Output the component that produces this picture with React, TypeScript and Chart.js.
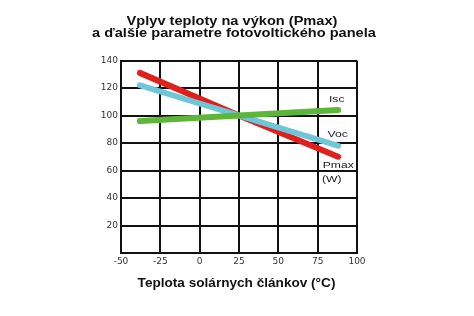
import React, { useEffect, useRef } from "react";
import { Chart, registerables } from "chart.js";

Chart.register(...registerables);

const titleLines = ["Vplyv teploty na výkon (Pmax)", "a ďalšie parametre fotovoltického panela"];
const xAxisTitle = "Teplota solárnych článkov (°C)";
const temperatures = [-38, 25, 88];
const pmaxValues = [131, 100, 70];
const vocValues = [122, 100, 78];
const iscValues = [96, 100, 104];
const seriesLabels = ["Isc", "Voc", "Pmax", "(W)"];
const xTicks = [-50, -25, 0, 25, 50, 75, 100];
const yTicks = [0, 20, 40, 60, 80, 100, 120, 140];

const toPoints = (vals: number[]) => temperatures.map((t, i) => ({ x: t, y: vals[i] }));

function stretchedText(ctx: any, text: string, x: number, y: number, sx: number, sy: number) {
  ctx.save();
  ctx.translate(x, y);
  ctx.scale(sx, sy);
  ctx.fillText(text, 0, 0);
  ctx.restore();
}

const textPlugin = {
  id: "texts",
  afterDraw(chart: any) {
    const ctx = chart.ctx;
    const xs = chart.scales.x;
    const ys = chart.scales.y;
    ctx.save();
    ctx.fillStyle = "#111";
    ctx.textAlign = "center";
    ctx.textBaseline = "alphabetic";
    ctx.font = "bold 14.6px 'Liberation Sans', Arial, sans-serif";
    stretchedText(ctx, titleLines[0], 232, 25, 1, 0.88);
    stretchedText(ctx, titleLines[1], 234, 37, 1, 0.88);
    ctx.font = "bold 13.6px 'Liberation Sans', Arial, sans-serif";
    stretchedText(ctx, xAxisTitle, 236.5, 286.7, 1, 0.95);
    ctx.textAlign = "left";
    ctx.font = "9px 'Liberation Sans', Arial, sans-serif";
    ctx.fillStyle = "#1a1a1a";
    stretchedText(ctx, seriesLabels[0], xs.getPixelForValue(82.2), ys.getPixelForValue(109.6), 1.35, 1);
    stretchedText(ctx, seriesLabels[1], xs.getPixelForValue(81.3), ys.getPixelForValue(84.4), 1.35, 1);
    stretchedText(ctx, seriesLabels[2], xs.getPixelForValue(78.2), ys.getPixelForValue(61.8), 1.35, 1);
    stretchedText(ctx, seriesLabels[3], xs.getPixelForValue(77.8), ys.getPixelForValue(51.6), 1.35, 1);
    ctx.restore();
  },
};

export default function App() {
  const ref = useRef<HTMLCanvasElement>(null);
  useEffect(() => {
    if (!ref.current) return;
    const chart = new Chart(ref.current, {
      type: "line",
      data: {
        datasets: [
          { label: "Isc", data: toPoints(iscValues), borderColor: "#5db53a", borderWidth: 6, pointRadius: 0, borderCapStyle: "round", order: 0 },
          { label: "Voc", data: toPoints(vocValues), borderColor: "#6ec6d6", borderWidth: 6, pointRadius: 0, borderCapStyle: "round", order: 1 },
          { label: "Pmax", data: toPoints(pmaxValues), borderColor: "#e0201c", borderWidth: 6, pointRadius: 0, borderCapStyle: "round", order: 2 },
        ],
      },
      options: {
        animation: false,
        responsive: false,
        layout: { padding: { top: 60.5, right: 117, left: 0, bottom: 0 } },
        plugins: { legend: { display: false }, title: { display: false }, tooltip: { enabled: false } },
        scales: {
          x: {
            type: "linear",
            min: -50,
            max: 100,
            afterBuildTicks: (s: any) => { s.ticks = xTicks.map((v) => ({ value: v })); },
            afterFit: (s: any) => { s.height = 63; },
            grid: { color: "#111", lineWidth: 2, drawTicks: false },
            border: { color: "#111", width: 2 },
            ticks: { color: "#333", font: { family: "'DejaVu Sans', sans-serif", size: 9 }, padding: 3, maxRotation: 0 },
          },
          y: {
            min: 0,
            max: 140,
            afterBuildTicks: (s: any) => { s.ticks = yTicks.map((v) => ({ value: v })); },
            afterFit: (s: any) => { s.width = 121; },
            grid: { color: "#111", lineWidth: 2, drawTicks: false },
            border: { color: "#111", width: 2 },
            ticks: { color: "#333", font: { family: "'DejaVu Sans', sans-serif", size: 9 }, padding: 3, callback: (v: any) => (v === 0 ? "" : String(v)) },
          },
        },
      },
      plugins: [textPlugin],
    } as any);
    return () => chart.destroy();
  }, []);
  return (
    <div style={{ position: "fixed", left: 0, top: 0, width: 474, height: 316, background: "#fff" }}>
      <canvas ref={ref} width={474} height={316} style={{ width: 474, height: 316 }} />
    </div>
  );
}
